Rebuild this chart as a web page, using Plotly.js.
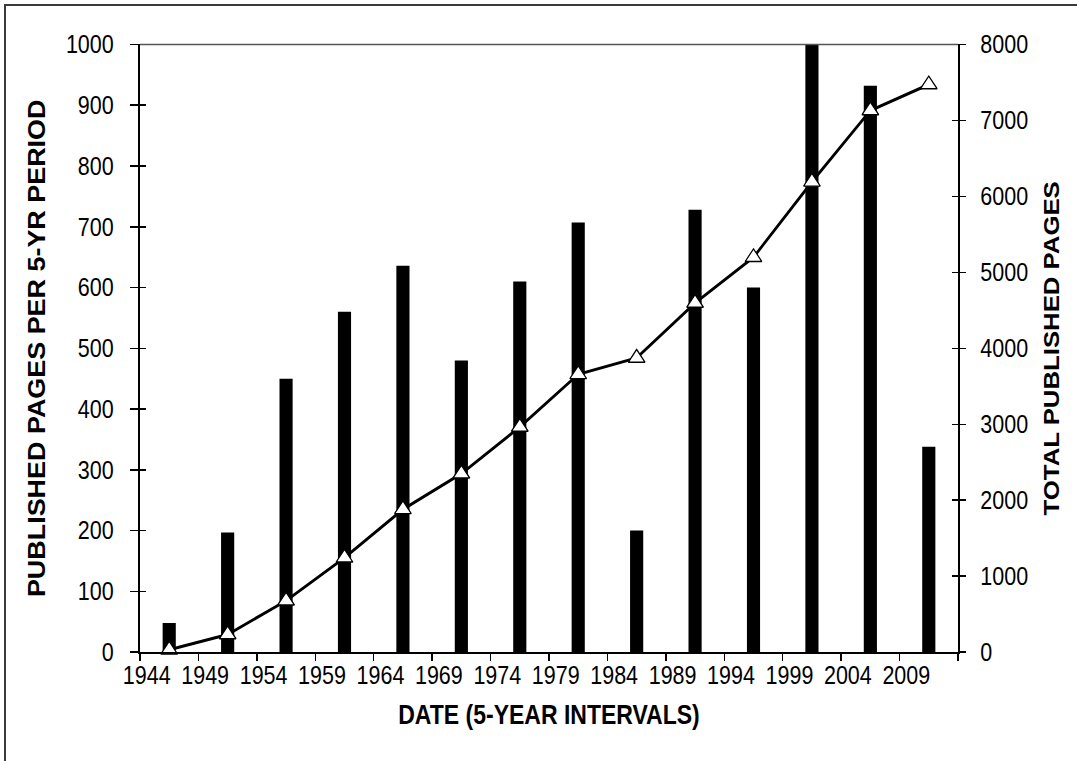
<!DOCTYPE html>
<html>
<head>
<meta charset="utf-8">
<script src="https://cdn.plot.ly/plotly-3.0.1.min.js"></script>
<style>
  html, body { margin: 0; padding: 0; background: #fff; overflow: hidden; }
  #wrap { position: absolute; left: 0; top: 0; width: 1077px; height: 761px; overflow: hidden; }
  #chart { position: absolute; left: 0; top: 0; width: 1077px; height: 650px;
           transform: scaleY(1.1708); transform-origin: 0 0; }
  #frame { position: absolute; left: 4px; top: 4px; width: 1200px; height: 900px;
           border-top: 2px solid #3a3a3a; border-left: 2px solid #3a3a3a; pointer-events: none; }
</style>
</head>
<body>
<div id="wrap">
  <div id="chart"></div>
  <div id="frame"></div>
</div>
<script>
const years = ['1944','1949','1954','1959','1964','1969','1974','1979','1984','1989','1994','1999','2004','2009'];
const pagesPerPeriod = [48, 197, 450, 560, 636, 480, 610, 707, 200, 728, 600, 1000, 932, 338];
const totalPages = [30, 232, 676, 1242, 1879, 2349, 2964, 3657, 3873, 4597, 5198, 6191, 7131, 7473];

const FONT = 'Liberation Sans, Arial, sans-serif';

// category i occupies [i, i+1] on a linear x axis; marks sit at the middle
const xMid = years.map((_, i) => i + 0.5);
const labelPos = years.map((_, i) => i + 0.115);
const boundaryPos = years.map((_, i) => i).concat([years.length]);

const bars = {
  type: 'bar', x: xMid, y: pagesPerPeriod, width: 0.225,
  marker: { color: '#000', line: { width: 0 } },
  xaxis: 'x', yaxis: 'y', hoverinfo: 'skip', showlegend: false
};
const line = {
  type: 'scatter', mode: 'lines+markers', x: xMid, y: totalPages,
  line: { color: '#000', width: 2.6 },
  marker: { symbol: 'triangle-up', size: 14.5, color: '#fff', line: { color: '#000', width: 1.2 } },
  xaxis: 'x', yaxis: 'y2', cliponaxis: false, hoverinfo: 'skip', showlegend: false
};
const hidden = { mode: 'markers', marker: { opacity: 0 }, hoverinfo: 'skip', showlegend: false, type: 'scatter' };
const dummyX = Object.assign({}, hidden, { x: [0], y: [0], xaxis: 'x2', yaxis: 'y' });
const dummyL = Object.assign({}, hidden, { x: [0], y: [0], xaxis: 'x', yaxis: 'y3' });
const dummyR = Object.assign({}, hidden, { x: [0], y: [0], xaxis: 'x', yaxis: 'y4' });

const tickFont = { family: FONT, size: 21.5, color: '#000' };
const titleFont = { family: FONT, size: 23, color: '#000', weight: 'bold' };
const rightTitleFont = { family: FONT, size: 22, color: '#000', weight: 'bold' };

const layout = {
  width: 1077, height: 650,
  margin: { l: 140, r: 119, t: 38.4, b: 92.9, pad: 0 },
  paper_bgcolor: '#fff', plot_bgcolor: '#fff',
  showlegend: false,
  xaxis: {
    range: [0, years.length], tickmode: 'array', tickvals: labelPos, ticktext: years,
    tickangle: 0, ticks: '', ticklabelstandoff: 18.5,
    showline: true, linecolor: '#000', linewidth: 1.7,
    showgrid: false, zeroline: false,
    tickfont: tickFont,
    title: { text: 'DATE (5-YEAR INTERVALS)', font: titleFont, standoff: 14 }
  },
  xaxis2: {
    overlaying: 'x', anchor: 'y', side: 'bottom',
    range: [0, years.length], tickmode: 'array', tickvals: boundaryPos,
    ticks: 'outside', ticklen: 6.8, tickwidth: 1.5, tickcolor: '#000',
    showticklabels: false, showline: false, showgrid: false, zeroline: false
  },
  yaxis: {
    range: [0, 1000], dtick: 100, tick0: 0,
    ticks: 'outside', ticklen: 8, tickwidth: 1.3, tickcolor: '#000',
    ticklabelstandoff: 12,
    showline: true, linecolor: '#000', linewidth: 2,
    showgrid: false, zeroline: false,
    tickfont: tickFont,
    title: { text: 'PUBLISHED PAGES PER 5-YR PERIOD', font: titleFont, standoff: 14 }
  },
  yaxis2: {
    overlaying: 'y', side: 'right', anchor: 'x',
    range: [0, 8000], dtick: 1000, tick0: 0,
    ticks: 'outside', ticklen: 6, tickwidth: 1.3, tickcolor: '#000',
    ticklabelstandoff: 10,
    showline: true, linecolor: '#000', linewidth: 2,
    showgrid: false, zeroline: false,
    tickfont: tickFont,
    title: { text: 'TOTAL PUBLISHED PAGES', font: rightTitleFont, standoff: 16 }
  },
  yaxis3: {
    overlaying: 'y', side: 'left', anchor: 'x',
    range: [0, 1000], dtick: 100, tick0: 0,
    ticks: 'inside', ticklen: 6, tickwidth: 1.3, tickcolor: '#000',
    showticklabels: false, showline: false, showgrid: false, zeroline: false
  },
  yaxis4: {
    overlaying: 'y', side: 'right', anchor: 'x',
    range: [0, 8000], dtick: 1000, tick0: 0,
    ticks: 'inside', ticklen: 6, tickwidth: 1.3, tickcolor: '#000',
    showticklabels: false, showline: false, showgrid: false, zeroline: false
  },
  shapes: [
    { type: 'line', xref: 'paper', yref: 'paper', x0: 0, x1: 1, y0: 1, y1: 1,
      line: { color: '#555', width: 1.3 } }
  ]
};

Plotly.newPlot('chart', [bars, dummyX, dummyL, dummyR, line], layout, { staticPlot: true, displayModeBar: false });
</script>
</body>
</html>
